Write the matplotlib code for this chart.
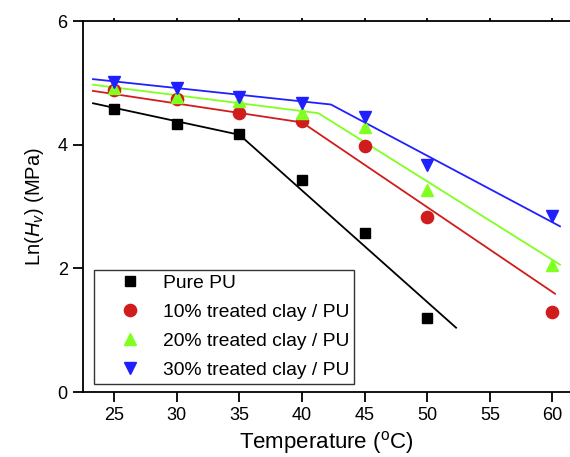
#!/usr/bin/env python3

import matplotlib
matplotlib.use("Agg")
import matplotlib.pyplot as plt

plt.rcParams['font.family'] = ['Liberation Sans', 'DejaVu Sans']
plt.rcParams['mathtext.fontset'] = 'custom'
plt.rcParams['mathtext.rm'] = 'Liberation Sans'
plt.rcParams['mathtext.it'] = 'Liberation Sans:italic'

# ---- measured data ----
temp = [25, 30, 35, 40, 45, 50, 60]
pure_t = [25, 30, 35, 40, 45, 50]
pure_pu = [4.58, 4.34, 4.17, 3.43, 2.57, 1.20]
clay10 = [4.88, 4.74, 4.52, 4.38, 3.98, 2.83, 1.29]
clay20 = [4.92, 4.77, 4.71, 4.51, 4.28, 3.26, 2.06]
clay30 = [5.02, 4.92, 4.77, 4.68, 4.45, 3.67, 2.84]

# ---- piecewise linear fits (break points) ----
fit_pure_x = [23.3, 35.0, 52.3]
fit_pure_y = [4.67, 4.16, 1.04]
fit10_x = [23.3, 40.0, 60.2]
fit10_y = [4.87, 4.36, 1.59]
fit20_x = [23.3, 41.3, 60.6]
fit20_y = [4.97, 4.51, 2.06]
fit30_x = [23.3, 42.3, 60.6]
fit30_y = [5.06, 4.65, 2.68]

labels = ["Pure PU", "10% treated clay / PU",
          "20% treated clay / PU", "30% treated clay / PU"]
colors = ["#000000", "#d01c1c", "#80ff20", "#2020ff"]

fig = plt.figure(figsize=(5.70, 4.57), dpi=100)
ax = fig.add_axes([0.1456, 0.1422, 0.8544, 0.8118])

ax.plot(fit_pure_x, fit_pure_y, color=colors[0], lw=1.3)
ax.plot(fit10_x, fit10_y, color=colors[1], lw=1.3)
ax.plot(fit20_x, fit20_y, color=colors[2], lw=1.3)
ax.plot(fit30_x, fit30_y, color=colors[3], lw=1.3)

ax.plot(pure_t, pure_pu, 's', color=colors[0], ms=7.2, label=labels[0])
ax.plot(temp, clay10, 'o', color=colors[1], ms=8.8, label=labels[1])
ax.plot(temp, clay20, '^', color=colors[2], ms=9, label=labels[2])
ax.plot(temp, clay30, 'v', color=colors[3], ms=9, label=labels[3])

ax.set_xlim(22.5, 61.4)
ax.set_ylim(0, 6)
ax.set_xticks([25, 30, 35, 40, 45, 50, 55, 60])
ax.set_yticks([0, 2, 4, 6])

ax.spines['right'].set_visible(False)
for s in ['left', 'bottom', 'top']:
    ax.spines[s].set_linewidth(1.3)

ax.tick_params(axis='both', direction='out', length=7, width=1.3,
               labelsize=13, pad=4)
ax.tick_params(axis='x', top=True)
for t in ax.xaxis.get_major_ticks():
    t.tick2line.set_markersize(2)

ax.set_xlabel(r"Temperature ($^{\rm o}$C)", fontsize=16, labelpad=3.5)
ax.set_ylabel(r"Ln($H_v$) (MPa)", fontsize=14.5, labelpad=8)

leg = ax.legend(loc='lower left', bbox_to_anchor=(0.0226, 0.0216),
                borderaxespad=0, fontsize=13.9, frameon=True, fancybox=False,
                edgecolor='black', borderpad=0.25, handlelength=3.2,
                handletextpad=0.1, labelspacing=0.6, numpoints=1)
leg.get_frame().set_linewidth(1.0)

fig.savefig("out.png", dpi=100)
plt.close()
